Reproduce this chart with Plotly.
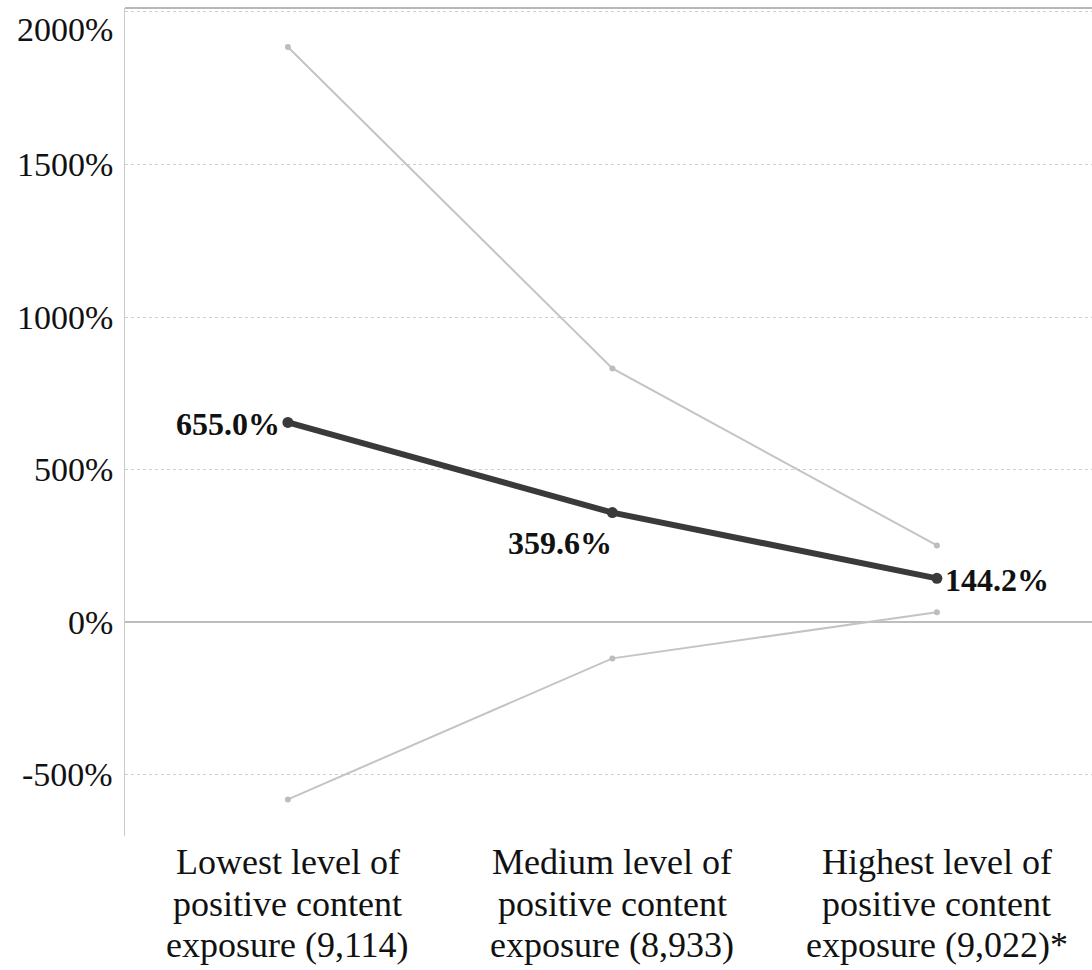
import plotly.graph_objects as go

# Exposure groups (x-axis categories), one list entry per label line
category_lines = [
    ["Lowest level of", "positive content", "exposure (9,114)"],
    ["Medium level of", "positive content", "exposure (8,933)"],
    ["Highest level of", "positive content", "exposure (9,022)*"],
]
# Percentage change estimate and its confidence bounds
estimate = [655.0, 359.6, 144.2]
upper_bound = [1885, 832, 252]
lower_bound = [-580, -118, 33]

y_ticks = [-500, 0, 500, 1000, 1500, 2000]
y_tick_text = ["-500%", "0%", "500%", "1000%", "1500%", "2000%"]

x_idx = list(range(len(category_lines)))
serif = "Liberation Serif"

fig = go.Figure()

for bound in (upper_bound, lower_bound):
    fig.add_trace(go.Scatter(
        x=x_idx, y=bound, mode="lines+markers",
        line=dict(color="#c4c4c4", width=2),
        marker=dict(color="#bdbdbd", size=6),
        hoverinfo="skip", showlegend=False,
    ))

fig.add_trace(go.Scatter(
    x=x_idx, y=estimate, mode="lines+markers",
    line=dict(color="#3a3a3c", width=6),
    marker=dict(color="#3a3a3c", size=11),
    showlegend=False,
))

# Value labels next to each estimate point
label_style = [
    dict(xanchor="right", yanchor="middle", xshift=-6, yshift=-2),
    dict(xanchor="right", yanchor="top", xshift=2, yshift=-10),
    dict(xanchor="left", yanchor="middle", xshift=6, yshift=-2),
]
for i, v in enumerate(estimate):
    fig.add_annotation(
        x=i, y=v, text="<b>%.1f%%</b>" % v, showarrow=False,
        font=dict(family=serif, size=32, color="#111111"),
        **label_style[i],
    )

# Y tick labels; the top one sits just inside the frame
for v, t in zip(y_ticks, y_tick_text):
    fig.add_annotation(
        x=0, xref="paper", xanchor="right", xshift=-10,
        y=v, yref="y", yanchor="middle", yshift=-18 if v == 2000 else 0,
        text=t, showarrow=False,
        font=dict(family=serif, size=34, color="#111111"),
    )

# Category labels below the plot area
for i, lines in enumerate(category_lines):
    for j, line in enumerate(lines):
        fig.add_annotation(
            x=i, xref="x", y=0, yref="paper",
            xanchor="center", yanchor="middle",
            yshift=-26 - 41.5 * j,
            text=line, showarrow=False,
            font=dict(family=serif, size=36, color="#111111"),
        )

# Frame line along the top of the plot area
fig.add_shape(type="line", xref="paper", yref="paper",
              x0=0, x1=1, y0=1, y1=1,
              line=dict(color="#b8b8b8", width=2))

fig.update_layout(
    width=1092, height=970,
    margin=dict(l=125, r=0, t=8, b=134),
    plot_bgcolor="white", paper_bgcolor="white",
    xaxis=dict(
        range=[-0.502, 2.478], showgrid=False, zeroline=False,
        showline=False, ticks="", showticklabels=False,
    ),
    yaxis=dict(
        range=[-700, 2013], tickvals=y_ticks, showticklabels=False,
        showgrid=True, gridcolor="#cfcfcf", griddash="dot", gridwidth=1,
        zeroline=True, zerolinecolor="#bdbdbd", zerolinewidth=2,
        showline=True, linecolor="#c8c8c8", linewidth=1, ticks="",
    ),
)

fig.write_html("out.html")
